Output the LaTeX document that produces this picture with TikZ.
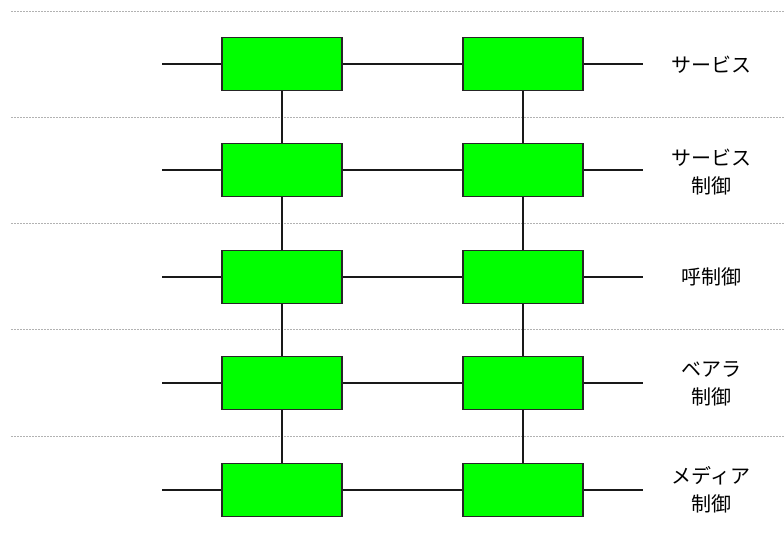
\documentclass[tikz,border=0pt]{standalone}
\usepackage{fontspec}
\newfontfamily\jfont{Noto Sans CJK JP}
\begin{document}
\begin{tikzpicture}[x=1pt,y=-1pt,
  blk/.style={draw=black!85,line width=1.3pt,fill=green!100,minimum width=120pt,minimum height=53pt,inner sep=0pt},
  wire/.style={draw=black!90,line width=1.1pt},
  sep/.style={draw=black!30,line width=0.7pt,dash pattern=on 2pt off 1pt},
  lbl/.style={font=\jfont\fontsize{20}{28}\selectfont,align=center,text=black}]
\useasboundingbox (0,0) rectangle (784,537);
\foreach \yy in {11,117,223,329,436} \draw[sep] (11,\yy) -- (784,\yy);
\foreach \r/\yy in {1/64,2/170,3/277,4/383,5/490}{
  \node[blk] (L\r) at (282,\yy) {};
  \node[blk] (R\r) at (523,\yy) {};
  \coordinate (a\r) at (162,\yy);
  \coordinate (b\r) at (643,\yy);
  \draw[wire] (a\r) -- (L\r.west);
  \draw[wire] (L\r.east) -- (R\r.west);
  \draw[wire] (R\r.east) -- (b\r);
}
\foreach \r/\s in {1/2,2/3,3/4,4/5}{
  \draw[wire] (L\r.south) -- (L\s.north);
  \draw[wire] (R\r.south) -- (R\s.north);
}
\node[lbl] (t1) at (711,65) {サービス};
\node[lbl] (t2) at (711,172) {サービス\\制御};
\node[lbl] (t3) at (711,277) {呼制御};
\node[lbl] (t4) at (711,384) {ベアラ\\制御};
\node[lbl] (t5) at (711,490) {メディア\\制御};
\end{tikzpicture}
\end{document}
